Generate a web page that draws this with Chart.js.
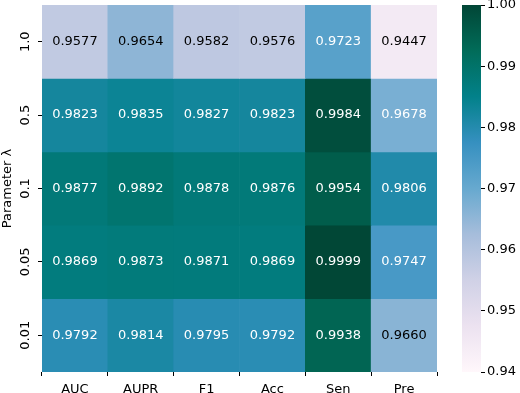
<!DOCTYPE html>
<html>
<head>
<meta charset="utf-8">
<script src="https://cdn.jsdelivr.net/npm/chart.js@4/dist/chart.umd.min.js"></script>
<style>
  body { margin: 0; background: #fff; }
  #wrap { position: relative; width: 520px; height: 393px; overflow: hidden; }
  #heat { position: absolute; left: 0; top: 0; }
  #bar { position: absolute; left: 440px; top: 0; }
</style>
</head>
<body>
<div id="wrap">
  <canvas id="heat" width="450" height="393"></canvas>
  <canvas id="bar" width="80" height="393"></canvas>
</div>
<script>
const columns = ['AUC', 'AUPR', 'F1', 'Acc', 'Sen', 'Pre'];
const rowLabels = ['1.0', '0.5', '0.1', '0.05', '0.01'];

// one array per lambda row, in column order
const lam1_0 = [0.9577, 0.9654, 0.9582, 0.9576, 0.9723, 0.9447];
const lam0_5 = [0.9823, 0.9835, 0.9827, 0.9823, 0.9984, 0.9678];
const lam0_1 = [0.9877, 0.9892, 0.9878, 0.9876, 0.9954, 0.9806];
const lam0_05 = [0.9869, 0.9873, 0.9871, 0.9869, 0.9999, 0.9747];
const lam0_01 = [0.9792, 0.9814, 0.9795, 0.9792, 0.9938, 0.9660];
const values = [lam1_0, lam0_5, lam0_1, lam0_05, lam0_01];

const vmin = 0.94, vmax = 1.00;
const cbarTicks = [0.94, 0.95, 0.96, 0.97, 0.98, 0.99, 1.00];

Chart.defaults.font.family = 'DejaVu Sans';
Chart.defaults.font.size = 13;
Chart.defaults.color = '#000';
Chart.defaults.animation = false;

// matplotlib PuBuGn
const cmap = [[255,247,251],[236,226,240],[208,209,230],[166,189,219],[103,169,207],
              [54,144,192],[2,129,138],[1,108,89],[1,70,54]];

function colorOf(v) {
    let t = (v - vmin) / (vmax - vmin);
    t = Math.max(0, Math.min(1, t)) * (cmap.length - 1);
    const i = Math.min(Math.floor(t), cmap.length - 2);
    const f = t - i;
    return cmap[i].map((c, k) => Math.round(c + (cmap[i + 1][k] - c) * f));
}
function rgb(c) { return 'rgb(' + c.join(',') + ')'; }
function textColor(c) {
    const lin = c.map(x => { x /= 255; return x <= 0.03928 ? x / 12.92 : Math.pow((x + 0.055) / 1.055, 2.4); });
    const lum = 0.2126 * lin[0] + 0.7152 * lin[1] + 0.0722 * lin[2];
    return lum > 0.408 ? '#000' : '#fff';
}

// cell annotations
const annotate = {
    id: 'annotate',
    afterDatasetsDraw(chart) {
        const ctx = chart.ctx;
        ctx.save();
        ctx.font = '13px "DejaVu Sans"';
        ctx.textAlign = 'center';
        ctx.textBaseline = 'middle';
        chart.data.datasets.forEach((ds, r) => {
            chart.getDatasetMeta(r).data.forEach((bar, c) => {
                const p = bar.getCenterPoint();
                const v = values[r][c];
                ctx.fillStyle = textColor(colorOf(v));
                ctx.fillText(v.toFixed(4), p.x, p.y);
            });
        });
        ctx.restore();
    }
};

new Chart(document.getElementById('heat'), {
    type: 'bar',
    data: {
        labels: columns,
        datasets: values.map((row, r) => ({
            data: row.map(() => [r - 0.5, r + 0.5]),
            backgroundColor: row.map(v => rgb(colorOf(v))),
            borderWidth: 0,
            grouped: false,
            categoryPercentage: 1,
            barPercentage: 1
        }))
    },
    options: {
        responsive: false,
        layout: { padding: { top: 5, right: 13, left: 0, bottom: 0 } },
        plugins: { legend: { display: false }, tooltip: { enabled: false } },
        scales: {
            x: {
                grid: { drawOnChartArea: false, tickLength: 4, color: '#000' },
                border: { display: false },
                ticks: { padding: 6 },
                afterFit(s) { s.height = 21; }
            },
            y: {
                reverse: true,
                min: -0.5,
                max: 4.5,
                grid: { drawOnChartArea: false, tickLength: 4, color: '#000' },
                border: { display: false },
                ticks: {
                    minRotation: 90,
                    maxRotation: 90,
                    crossAlign: 'center',
                    padding: -2,
                    callback: v => rowLabels[v]
                },
                afterBuildTicks(s) { s.ticks = rowLabels.map((_, i) => ({ value: i })); },
                title: { display: true, text: 'Parameter λ', padding: 0 },
                afterFit(s) { s.width = 42; s.paddingTop = 0; s.paddingBottom = 0; }
            }
        }
    },
    plugins: [annotate]
});

// colour bar
new Chart(document.getElementById('bar'), {
    type: 'bar',
    data: {
        labels: [''],
        datasets: [{
            data: [[vmin, vmax]],
            borderWidth: 0,
            categoryPercentage: 1,
            barPercentage: 1,
            backgroundColor(ctx) {
                const chart = ctx.chart;
                if (!chart.chartArea) return rgb(cmap[4]);
                const y = chart.scales.y;
                const g = chart.ctx.createLinearGradient(0, y.getPixelForValue(vmin), 0, y.getPixelForValue(vmax));
                cmap.forEach((c, i) => g.addColorStop(i / (cmap.length - 1), rgb(c)));
                return g;
            }
        }]
    },
    options: {
        responsive: false,
        layout: { padding: { top: 5, bottom: 21, left: 22, right: 0 } },
        plugins: { legend: { display: false }, tooltip: { enabled: false } },
        scales: {
            x: { display: false },
            y: {
                position: 'right',
                min: vmin,
                max: vmax,
                grid: { drawOnChartArea: false, tickLength: 4, color: '#000' },
                border: { display: false },
                ticks: { padding: 2, callback: v => v.toFixed(2) },
                afterBuildTicks(s) { s.ticks = cbarTicks.map(v => ({ value: v })); },
                afterFit(s) { s.width = 39; s.paddingTop = 0; s.paddingBottom = 0; }
            }
        }
    }
});
</script>
</body>
</html>
